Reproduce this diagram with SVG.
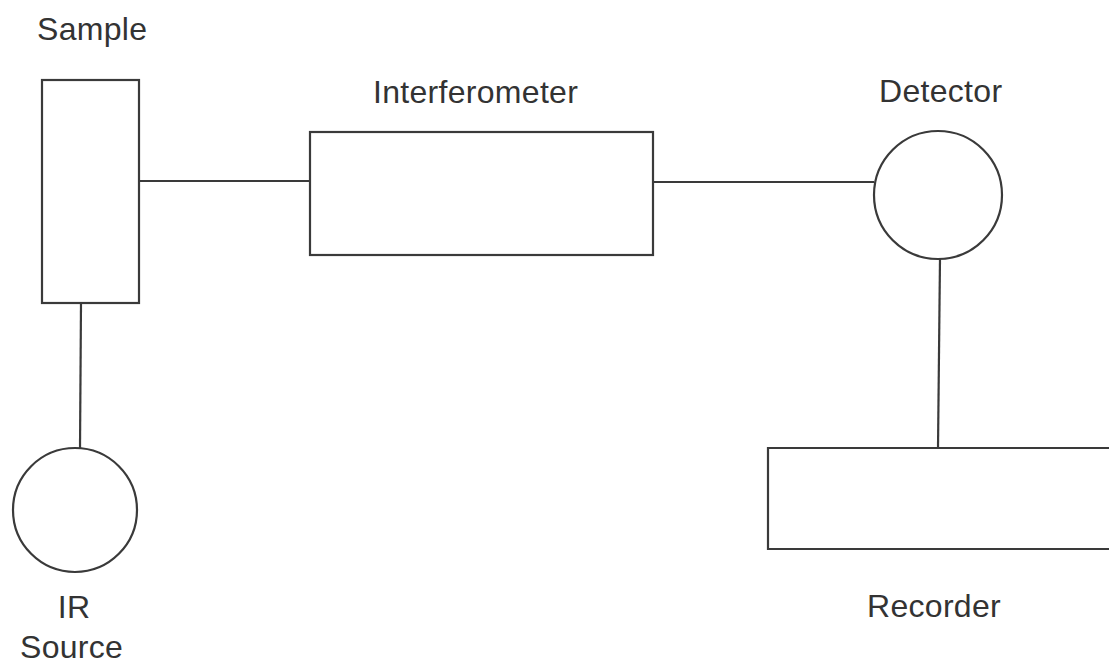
<svg xmlns="http://www.w3.org/2000/svg" width="1109" height="664" viewBox="0 0 1109 664">
<style>
.s{fill:none;stroke:#3a3a3a;stroke-width:2.2}
.c{fill:none;stroke:#3a3a3a;stroke-width:2.2}
.t{font-family:"Liberation Sans",Arial,sans-serif;font-size:32px;fill:#333333;letter-spacing:0.3px}
</style>
<rect width="1109" height="664" fill="#ffffff"/>
<g id="connectors">
<line class="c" x1="140" y1="181" x2="310" y2="181"/>
<line class="c" x1="653" y1="182" x2="874" y2="182"/>
<line class="c" x1="81" y1="303" x2="80" y2="448"/>
<line class="c" x1="940" y1="258" x2="938" y2="448"/>
</g>
<g id="sample">
<rect class="s" x="42" y="80" width="97" height="223"/>
<text class="t" x="37" y="40">Sample</text>
</g>
<g id="interferometer">
<rect class="s" x="310" y="132" width="343" height="123"/>
<text class="t" x="373" y="103">Interferometer</text>
</g>
<g id="detector">
<circle class="s" cx="938" cy="195" r="64"/>
<text class="t" x="879" y="102">Detector</text>
</g>
<g id="recorder">
<path class="s" d="M1112,448 H768 V549 H1112"/>
<text class="t" x="867" y="617">Recorder</text>
</g>
<g id="ir-source">
<circle class="s" cx="75" cy="510" r="62"/>
<text class="t" x="74" y="618" text-anchor="middle">IR</text>
<text class="t" x="20" y="658">Source</text>
</g>
</svg>
